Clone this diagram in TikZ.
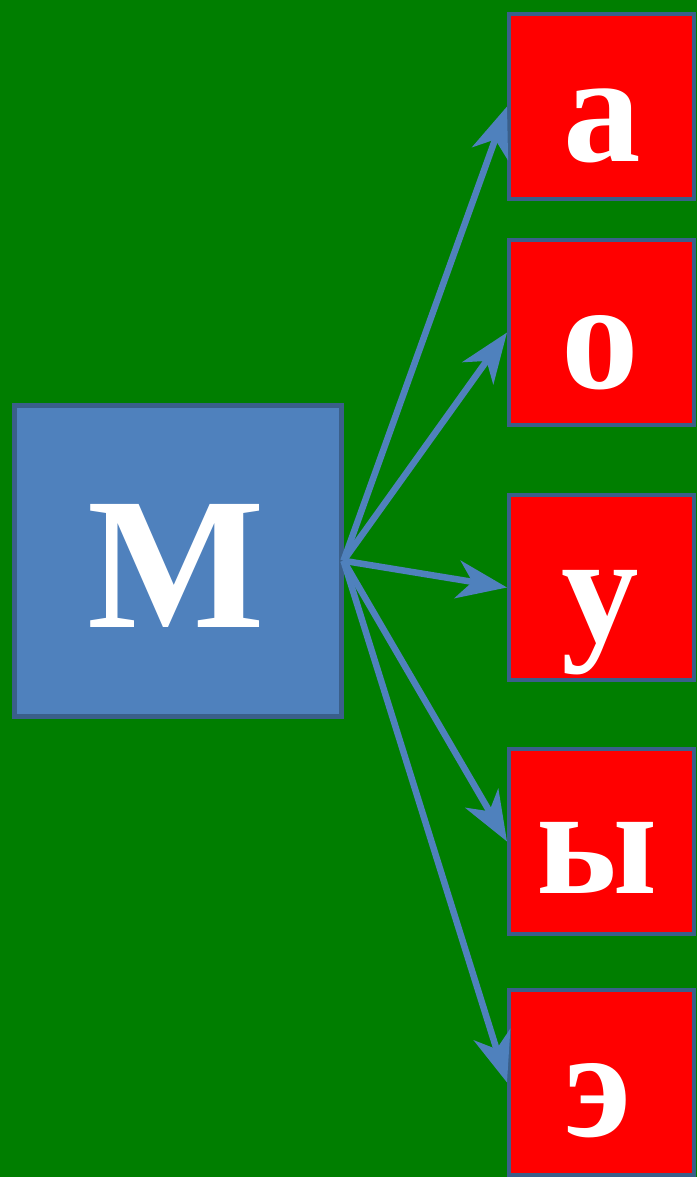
\documentclass[tikz,border=0pt]{standalone}
\usepackage{fontspec}
\newfontfamily\lettfont{Liberation Serif}
\usetikzlibrary{arrows.meta}
\definecolor{bggreen}{RGB}{0,126,0}
\definecolor{boxblue}{RGB}{79,129,189}
\definecolor{edgeblue}{RGB}{58,95,138}
\definecolor{boxred}{RGB}{255,0,0}
\tikzset{
  redbox/.style={draw=edgeblue, line width=4pt, fill=boxred, inner sep=0pt, minimum width=185pt, minimum height=185pt, anchor=north west},
  mbox/.style={draw=edgeblue, line width=4.5pt, fill=boxblue, inner sep=0pt, minimum width=327pt, minimum height=311pt, anchor=north west},
  letter/.style={text=white, font=\fontsize{155}{155}\selectfont\lettfont\bfseries, anchor=base, inner sep=0pt},
  bigletter/.style={letter, font=\fontsize{188}{188}\selectfont\lettfont\bfseries},
  linkshadow/.style={draw=black, opacity=0.25, line width=6.5pt, -{Stealth[length=50pt,width=38pt,inset=15pt]}},
  link/.style={draw=boxblue, line width=6.5pt, -{Stealth[length=50pt,width=38pt,inset=15pt]}}
}
\begin{document}
\begin{tikzpicture}[x=1pt,y=-1pt]
\fill[bggreen] (0,0) rectangle (697,1177);
\useasboundingbox (0,0) rectangle (697,1177);
\node[mbox] (M) at (12,403) {};
\node[redbox] (A) at (507,12) {};
\node[redbox] (O) at (507,238) {};
\node[redbox] (U) at (507,493) {};
\node[redbox] (Y) at (507,747) {};
\node[redbox] (E) at (507,988) {};
\node[bigletter] (lM) at (176,627) {М};
\node[letter] (lA) at (602,162) {а};
\node[letter] (lO) at (600,388) {о};
\node[letter] (lU) at (600,641) {у};
\node[letter] (lY) at (597,893) {ы};
\node[letter] (lE) at (598,1136) {э};
\draw[link] (M.east) -- (A.west);
\draw[link] (M.east) -- (O.west);
\draw[link] (M.east) -- (U.west);
\draw[link] (M.east) -- (Y.west);
\draw[link] (M.east) -- (E.west);
\end{tikzpicture}
\end{document}
